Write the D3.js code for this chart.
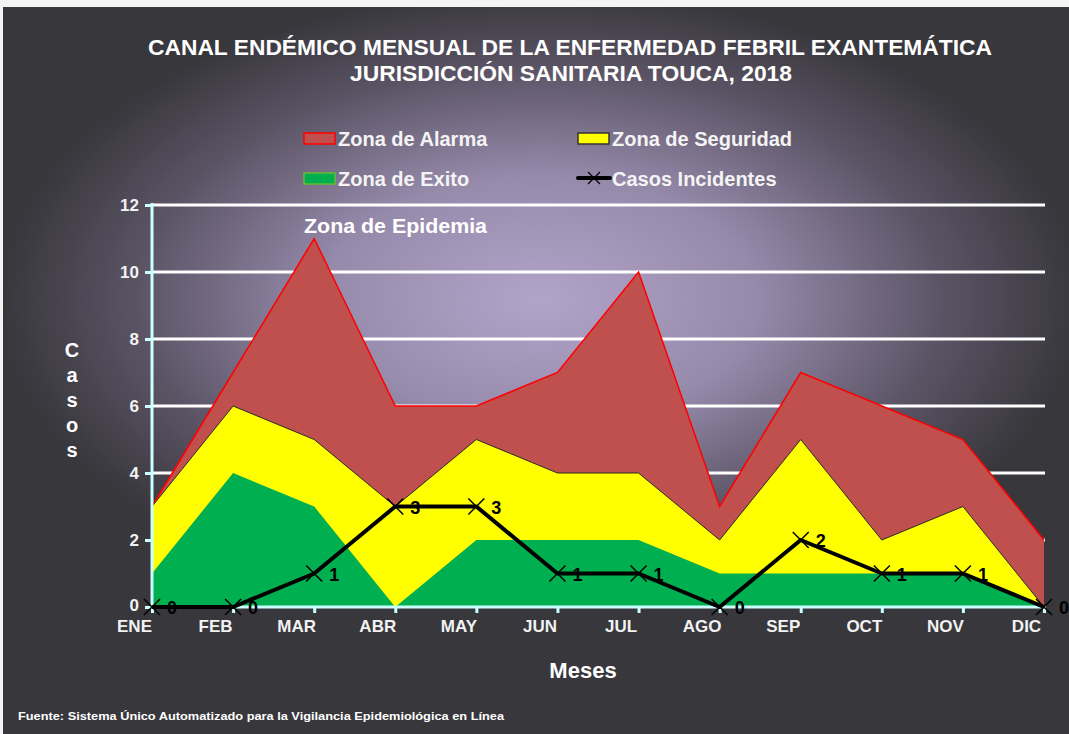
<!DOCTYPE html>
<html>
<head>
<meta charset="utf-8">
<script src="https://cdn.jsdelivr.net/npm/d3@7"></script>
<style>
  body { margin: 0; background: #fff; }
  text { font-family: "Liberation Sans", Arial, sans-serif; font-weight: bold; }
</style>
</head>
<body>
<div id="chart"></div>
<script>
// data
var meses = ["ENE", "FEB", "MAR", "ABR", "MAY", "JUN", "JUL", "AGO", "SEP", "OCT", "NOV", "DIC"];
var zonaExito = [1, 4, 3, 0, 2, 2, 2, 1, 1, 1, 1, 0];
var zonaSeguridad = [3, 6, 5, 3, 5, 4, 4, 2, 5, 2, 3, 0];
var zonaAlarma = [3, 7, 11, 6, 6, 7, 10, 3, 7, 6, 5, 2];
var casos = [0, 0, 1, 3, 3, 1, 1, 0, 2, 1, 1, 0];
var yTicks = [0, 2, 4, 6, 8, 10, 12];

var W = 1069, H = 734;

var svg = d3.select("#chart")
    .append("svg")
    .attr("width", W)
    .attr("height", H);

// background gradient
var defs = svg.append("defs");
var grad = defs.append("radialGradient")
    .attr("id", "bg")
    .attr("gradientUnits", "userSpaceOnUse")
    .attr("cx", 0).attr("cy", 0).attr("r", 1)
    .attr("gradientTransform", "translate(540,300) scale(540,310)");
grad.append("stop").attr("offset", "0").attr("stop-color", "#b2a4c9");
grad.append("stop").attr("offset", "0.4").attr("stop-color", "#968aab");
grad.append("stop").attr("offset", "0.75").attr("stop-color", "#5a5364");
grad.append("stop").attr("offset", "1").attr("stop-color", "#38373c");

svg.append("rect").attr("x", 0).attr("y", 0).attr("width", W).attr("height", H).attr("fill", "#f4f4f4");
svg.append("rect").attr("x", 3).attr("y", 7).attr("width", W - 3).attr("height", H - 7).attr("fill", "#38373c");
svg.append("rect").attr("x", 3).attr("y", 7).attr("width", W - 3).attr("height", H - 7).attr("fill", "url(#bg)");

var x = d3.scalePoint()
    .domain(meses)
    .range([152, 1044]);

var y = d3.scaleLinear()
    .domain([0, 12])
    .range([607, 205]);

// grid lines
svg.append("g")
    .selectAll("line")
    .data(yTicks.filter(function(d) { return d > 0; }))
    .enter()
    .append("line")
    .attr("x1", 152).attr("x2", 1045)
    .attr("y1", function(d) { return y(d); })
    .attr("y2", function(d) { return y(d); })
    .attr("stroke", "#ffffff")
    .attr("stroke-width", 3);

// areas, drawn back to front
function area(vals) {
    return d3.area()
        .x(function(d, i) { return x(meses[i]); })
        .y0(y(0))
        .y1(function(d) { return y(d); })(vals);
}
function topLine(vals) {
    return d3.line()
        .x(function(d, i) { return x(meses[i]); })
        .y(function(d) { return y(d); })(vals);
}

svg.append("path").attr("d", area(zonaAlarma)).attr("fill", "#c0504d");
svg.append("path").attr("d", topLine(zonaAlarma)).attr("fill", "none").attr("stroke", "#ff0000").attr("stroke-width", 1.5);
svg.append("path").attr("d", area(zonaSeguridad)).attr("fill", "#ffff00");
svg.append("path").attr("d", topLine(zonaSeguridad)).attr("fill", "none").attr("stroke", "#2a2a2a").attr("stroke-width", 1);
svg.append("path").attr("d", area(zonaExito)).attr("fill", "#00b050");

// axes
var yAxis = svg.append("g")
    .attr("transform", "translate(152,0)")
    .call(d3.axisLeft(y).tickValues(yTicks).tickSize(7).tickPadding(6));
yAxis.select(".domain").remove();
yAxis.selectAll("line").attr("stroke", "#ccffff").attr("stroke-width", 3);
yAxis.selectAll("text")
    .attr("fill", "#f2f2f2")
    .attr("dy", function(d) { return d === 0 ? "0.2em" : "0.32em"; })
    .style("font-size", "17px")
    .style("font-family", "'Liberation Sans', Arial, sans-serif")
    .style("font-weight", "bold");
svg.append("line")
    .attr("x1", 152).attr("x2", 152)
    .attr("y1", y(12) - 2).attr("y2", y(0) + 2)
    .attr("stroke", "#ccffff").attr("stroke-width", 3);

var xAxis = svg.append("g")
    .attr("transform", "translate(0,607)")
    .call(d3.axisBottom(x).tickSize(6).tickPadding(7));
xAxis.select(".domain").remove();
xAxis.selectAll("line").attr("stroke", "#ccffff").attr("stroke-width", 3);
xAxis.selectAll("text")
    .attr("fill", "#f2f2f2")
    .attr("dx", -18)
    .style("font-size", "17px")
    .style("font-family", "'Liberation Sans', Arial, sans-serif")
    .style("font-weight", "bold");
svg.append("line")
    .attr("x1", 150).attr("x2", 1046)
    .attr("y1", 607).attr("y2", 607)
    .attr("stroke", "#ccffff").attr("stroke-width", 3);

// incident cases line
svg.append("path")
    .attr("d", topLine(casos))
    .attr("fill", "none")
    .attr("stroke", "#000")
    .attr("stroke-width", 4)
    .attr("stroke-linejoin", "round");

var pts = svg.append("g").selectAll("g")
    .data(casos)
    .enter()
    .append("g")
    .attr("transform", function(d, i) { return "translate(" + x(meses[i]) + "," + y(d) + ")"; });
pts.append("path")
    .attr("d", "M-8,-8L8,8M-8,8L8,-8")
    .attr("stroke", "#000")
    .attr("stroke-width", 1.5);
pts.append("text")
    .attr("x", 15)
    .attr("y", 7)
    .attr("fill", "#000")
    .style("font-size", "18px")
    .text(function(d) { return d; });

// titles
svg.append("text")
    .attr("x", 570).attr("y", 55)
    .attr("text-anchor", "middle")
    .attr("fill", "#ffffff")
    .attr("textLength", 844).attr("lengthAdjust", "spacingAndGlyphs")
    .style("font-size", "22px")
    .text("CANAL ENDÉMICO MENSUAL DE LA ENFERMEDAD FEBRIL EXANTEMÁTICA");
svg.append("text")
    .attr("x", 571).attr("y", 81)
    .attr("text-anchor", "middle")
    .attr("fill", "#ffffff")
    .attr("textLength", 442).attr("lengthAdjust", "spacingAndGlyphs")
    .style("font-size", "22px")
    .text("JURISDICCIÓN SANITARIA TOUCA, 2018");

svg.append("text")
    .attr("x", 304).attr("y", 233)
    .attr("fill", "#ffffff")
    .attr("textLength", 183).attr("lengthAdjust", "spacingAndGlyphs")
    .style("font-size", "21px")
    .text("Zona de Epidemia");

// legend
var legend = [
    {label: "Zona de Alarma", fill: "#c0504d", stroke: "#ff0000", x: 304, y: 138},
    {label: "Zona de Seguridad", fill: "#ffff00", stroke: "#333333", x: 578, y: 138},
    {label: "Zona de Exito", fill: "#00b050", stroke: "#66bb33", x: 304, y: 178},
    {label: "Casos Incidentes", line: true, x: 578, y: 178}
];
var lg = svg.append("g").selectAll("g")
    .data(legend)
    .enter()
    .append("g")
    .attr("transform", function(d) { return "translate(" + d.x + "," + d.y + ")"; });
lg.filter(function(d) { return !d.line; })
    .append("rect")
    .attr("x", 0).attr("y", -5).attr("width", 31).attr("height", 11)
    .attr("fill", function(d) { return d.fill; })
    .attr("stroke", function(d) { return d.stroke; })
    .attr("stroke-width", 1.5);
lg.filter(function(d) { return d.line; })
    .append("line")
    .attr("x1", 0).attr("x2", 32).attr("y1", 0).attr("y2", 0)
    .attr("stroke", "#000").attr("stroke-width", 4).attr("stroke-linecap", "round");
lg.filter(function(d) { return d.line; })
    .append("path")
    .attr("d", "M10,-6L22,6M10,6L22,-6")
    .attr("stroke", "#000").attr("stroke-width", 1.2);
lg.append("text")
    .attr("x", 34).attr("y", 8)
    .attr("fill", "#f4f4f4")
    .style("font-size", "20px")
    .text(function(d) { return d.label; });

// axis titles
svg.append("text")
    .attr("x", 583).attr("y", 678)
    .attr("text-anchor", "middle")
    .attr("fill", "#ffffff")
    .style("font-size", "22px")
    .text("Meses");

svg.append("g").selectAll("text")
    .data("Casos".split(""))
    .enter()
    .append("text")
    .attr("x", 72)
    .attr("y", function(d, i) { return 357 + i * 25; })
    .attr("text-anchor", "middle")
    .attr("fill", "#ffffff")
    .style("font-size", "20px")
    .text(function(d) { return d; });

svg.append("text")
    .attr("x", 18).attr("y", 720)
    .attr("fill", "#ffffff")
    .attr("textLength", 486).attr("lengthAdjust", "spacingAndGlyphs")
    .style("font-size", "11px")
    .text("Fuente: Sistema Único Automatizado para la Vigilancia Epidemiológica  en Línea");
</script>
</body>
</html>
